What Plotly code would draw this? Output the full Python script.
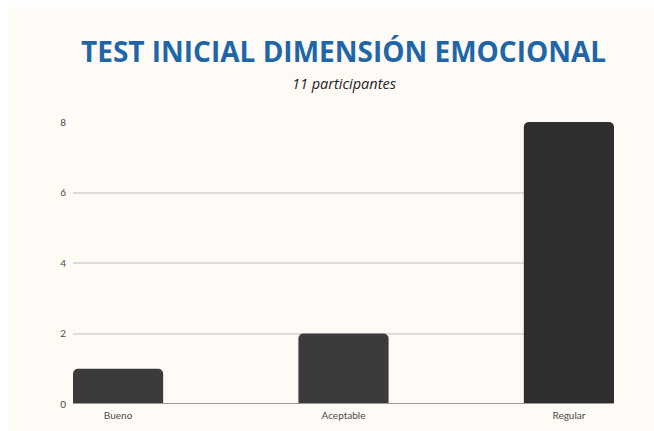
import plotly.graph_objects as go

categories = ["Bueno", "Aceptable", "Regular"]
values = [1, 2, 8]
bar_colors = ["#3b3b3b", "#3b3b3b", "#2e2e2e"]
y_ticks = [0, 2, 4, 6, 8]

W, H = 654, 431
L, R, T, B = 73, 40, 122, 27
pw, ph = W - L - R, H - T - B

def px_x(p):
    return (p - L) / pw

def px_y(p):
    return (H - B - p) / ph

fig = go.Figure()
fig.add_trace(go.Bar(
    x=list(range(len(categories))), y=values,
    marker=dict(color=bar_colors, line=dict(width=0)),
    width=0.4,
))

fig.update_layout(
    width=W, height=H,
    margin=dict(l=L, r=R, t=T, b=B, pad=0, autoexpand=False),
    paper_bgcolor="white",
    plot_bgcolor="rgba(0,0,0,0)",
    barcornerradius=5,
    showlegend=False,
    font=dict(family="Lato", color="#4a4a4a", size=10),
    xaxis=dict(
        range=[-0.2, 2.2], tickmode="array",
        tickvals=list(range(len(categories))), ticktext=categories,
        showgrid=False, zeroline=False, showline=False, ticks="",
        ticklabelstandoff=4, automargin=False,
        tickfont=dict(family="Lato", size=10, color="#4a4a4a"),
        fixedrange=True,
    ),
    yaxis=dict(
        range=[0, 8], tickmode="array", tickvals=y_ticks,
        showgrid=True, gridcolor="#dcdcdc", gridwidth=1.5,
        zeroline=False, showline=False, ticks="", ticklabelstandoff=6,
        automargin=False,
        tickfont=dict(family="Lato", size=10, color="#4a4a4a"),
        fixedrange=True,
    ),
    shapes=[
        dict(type="rect", xref="paper", yref="paper", layer="below",
             x0=px_x(8), x1=px_x(W + 2), y0=px_y(H + 2), y1=px_y(7),
             fillcolor="#fefbf6", line=dict(width=0)),
        dict(type="line", xref="paper", yref="y", x0=0, x1=1, y0=0, y1=0,
             line=dict(color="#9a9a9a", width=2), layer="above"),
    ],
    annotations=[
        dict(text="<b>TEST INICIAL DIMENSIÓN EMOCIONAL</b>", xref="paper", yref="paper",
             x=0.5, y=px_y(51), xanchor="center", yanchor="middle", showarrow=False,
             font=dict(family="Open Sans", size=28, color="#1f66a8")),
        dict(text="<i>11 participantes</i>", xref="paper", yref="paper",
             x=0.5, y=px_y(84), xanchor="center", yanchor="middle", showarrow=False,
             font=dict(family="Open Sans", size=14.5, color="#222222")),
    ],
)

fig.write_html("out.html")
